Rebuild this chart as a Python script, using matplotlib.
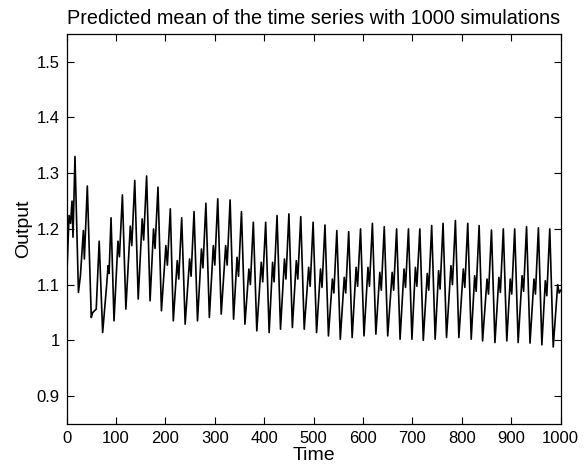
import matplotlib
matplotlib.use("Agg")
import matplotlib.pyplot as plt

# vertices of the predicted-mean curve
time = [
    0, 5, 8, 11, 13, 17, 24, 28, 34, 36, 42, 50, 53, 60, 66, 73, 81, 84, 86, 90, 96,
    104, 107, 113, 120,
    129, 132, 138, 145,
    153, 156, 162, 169,
    176, 179, 185, 192,
    201, 204, 210, 216,
    224, 227, 233, 240,
    249, 252, 258, 265,
    273, 276, 282, 289,
    297, 300, 306, 313,
    322, 325, 331, 338,
    345, 348, 354, 361,
    369, 372, 378, 385,
    394, 397, 403, 410,
    417, 420, 426, 433,
    441, 444, 450, 457,
    465, 468, 474, 481,
    490, 493, 499, 506,
    514, 517, 523, 530,
    538, 541, 547, 554,
    562, 565, 571, 578,
    586, 589, 595, 602,
    610, 613, 619, 626,
    634, 637, 643, 650,
    659, 662, 668, 675,
    683, 686, 692, 699,
    706, 709, 715, 722,
    730, 733, 739, 746,
    753, 756, 762, 769,
    778, 781, 787, 794,
    803, 806, 812, 819,
    826, 829, 835, 842,
    851, 854, 860, 867,
    875, 878, 884, 891,
    898, 901, 907, 914,
    922, 925, 931, 938,
    946, 949, 955, 962,
    969, 972, 978, 985,
    994, 997, 1000,
]
output = [
    1.104, 1.224, 1.21, 1.25, 1.185, 1.33, 1.086, 1.116, 1.197, 1.146, 1.277, 1.041,
    1.05, 1.056, 1.178, 1.014, 1.098, 1.134, 1.12, 1.22, 1.035,
    1.178, 1.15, 1.261, 1.056,
    1.205, 1.17, 1.287, 1.074,
    1.218, 1.18, 1.295, 1.071,
    1.2, 1.165, 1.275, 1.053,
    1.17, 1.135, 1.236, 1.035,
    1.143, 1.11, 1.22, 1.029,
    1.146, 1.115, 1.231, 1.035,
    1.164, 1.13, 1.246, 1.041,
    1.17, 1.135, 1.254, 1.047,
    1.17, 1.135, 1.252, 1.038,
    1.149, 1.115, 1.231, 1.029,
    1.128, 1.1, 1.212, 1.017,
    1.14, 1.105, 1.212, 1.014,
    1.14, 1.105, 1.224, 1.02,
    1.146, 1.11, 1.227, 1.023,
    1.143, 1.11, 1.222, 1.02,
    1.131, 1.097, 1.212, 1.014,
    1.128, 1.095, 1.207, 1.008,
    1.11, 1.085, 1.197, 1.002,
    1.113, 1.085, 1.195, 1.005,
    1.131, 1.097, 1.2, 1.008,
    1.131, 1.097, 1.21, 1.011,
    1.122, 1.09, 1.204, 1.008,
    1.122, 1.09, 1.2, 1.002,
    1.128, 1.095, 1.2, 1.002,
    1.131, 1.097, 1.2, 1.0,
    1.12, 1.09, 1.206, 1.002,
    1.125, 1.092, 1.21, 1.005,
    1.134, 1.1, 1.215, 1.005,
    1.128, 1.095, 1.21, 1.002,
    1.116, 1.088, 1.206, 0.999,
    1.11, 1.083, 1.198, 0.996,
    1.113, 1.086, 1.2, 0.999,
    1.11, 1.083, 1.2, 0.996,
    1.116, 1.088, 1.204, 0.995,
    1.11, 1.083, 1.202, 0.992,
    1.107, 1.08, 1.2, 0.988,
    1.10, 1.085, 1.09,
]
x_ticks = [0, 100, 200, 300, 400, 500, 600, 700, 800, 900, 1000]
y_ticks = [0.9, 1.0, 1.1, 1.2, 1.3, 1.4, 1.5]
y_tick_labels = ["0.9", "1", "1.1", "1.2", "1.3", "1.4", "1.5"]

plt.rcParams["font.family"] = ["Liberation Sans", "DejaVu Sans"]

fig = plt.figure(figsize=(5.84, 4.70), dpi=100)
ax = fig.add_axes([0.114, 0.098, 0.846, 0.830])

ax.plot(time, output, color="black", linewidth=1.2)

ax.set_xlim(0, 1000)
ax.set_ylim(0.85, 1.55)
ax.set_xticks(x_ticks)
ax.set_yticks(y_ticks)
ax.set_yticklabels(y_tick_labels)
ax.tick_params(direction="in", top=True, right=True, length=5, width=0.8,
               labelsize=12, pad=5)
for s in ax.spines.values():
    s.set_linewidth(0.9)

ax.set_title("Predicted mean of the time series with 1000 simulations",
             fontsize=14.3, pad=7)
ax.set_xlabel("Time", fontsize=14, labelpad=1)
ax.set_ylabel("Output", fontsize=14, labelpad=3)

fig.savefig("out.png", dpi=100)
